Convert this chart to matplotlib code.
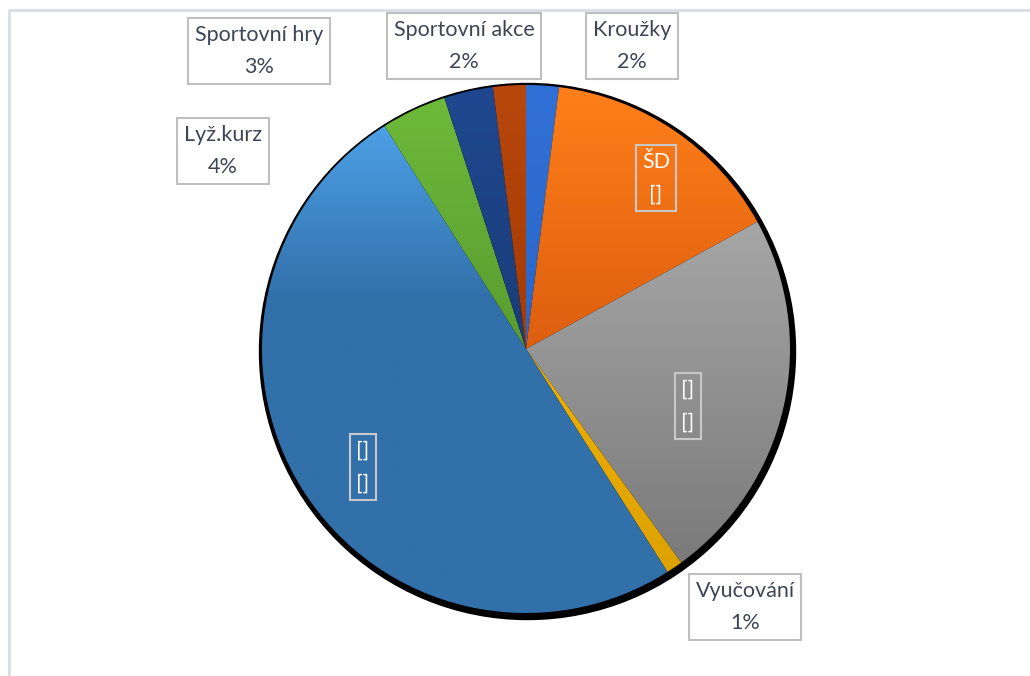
import numpy as np
import matplotlib
matplotlib.use('Agg')
import matplotlib.pyplot as plt
from matplotlib.colors import LinearSegmentedColormap
from matplotlib.patches import Circle

# data, clockwise from 12 o'clock
labels = ['Kroužky', 'ŠD', '[]', 'Vyučování', '[]', 'Lyž.kurz', 'Sportovní hry', 'Sportovní akce']
values = [2, 15, 23, 1, 50, 4, 3, 2]
label_texts = ['Kroužky\n2%', 'ŠD\n[]', '[]\n[]', 'Vyučování\n1%', '[]\n[]',
               'Lyž.kurz\n4%', 'Sportovní hry\n3%', 'Sportovní akce\n2%']

# gradient colours (top, bottom) per slice
grad_top = ['#3170D6', '#FF7F1A', '#A6A6A6', '#F0B000', '#4CA0E6', '#6DBA3A', '#1F4890', '#B8470B']
grad_bot = ['#2B66C8', '#DD5E0E', '#7A7A7A', '#DDA200', '#3270AA', '#5A9C30', '#1A3C78', '#A23B05']
grad_stop = [1.0, 1.0, 1.0, 1.0, 0.35, 1.0, 1.0, 1.0]

# label positions in pixels (x, y from top)
label_pos = [(632, 46), (656, 178), (688, 406), (745, 607), (363, 467),
             (223, 151), (259, 51), (464, 46)]
inside = [False, True, True, False, True, False, False, False]

W, H = 1030, 676
cx, cy, R = 526, 676 - 349, 264

fig = plt.figure(figsize=(W / 100, H / 100), dpi=100)
ax = fig.add_axes([0, 0, 1, 1])
ax.set_xlim(0, W)
ax.set_ylim(0, H)
ax.set_aspect('equal')
ax.axis('off')

# frame of the chart area (only top and left visible)
ax.plot([8.5, 8.5, W], [0, H - 9.5, H - 9.5], color='#D9DEE4', lw=2, zorder=0)

# shadow behind the pie
ax.add_patch(Circle((cx + 1.5, cy - 2.5), R + 4, color='black', zorder=1))

wedges, _ = ax.pie(values, center=(cx, cy), radius=R, startangle=90,
                   counterclock=False, frame=True,
                   wedgeprops=dict(linewidth=0))

for i, w in enumerate(wedges):
    w.set_facecolor('none')
    w.set_zorder(2)
    path = w.get_path().transformed(w.get_patch_transform())
    verts = path.vertices
    y0, y1 = verts[:, 1].min(), verts[:, 1].max()
    x0, x1 = verts[:, 0].min(), verts[:, 0].max()
    cmap = LinearSegmentedColormap.from_list(
        'g%d' % i, [(0, grad_top[i]), (grad_stop[i], grad_bot[i]), (1, grad_bot[i])])
    grad = np.linspace(0, 1, 256).reshape(-1, 1)
    im = ax.imshow(grad, cmap=cmap, extent=(x0, x1, y0, y1), origin='upper',
                   aspect='auto', zorder=2, interpolation='bilinear')
    im.set_clip_path(w)

ax.set_xlim(0, W)
ax.set_ylim(0, H)
ax.axis('off')

for txt, (px, py), ins in zip(label_texts, label_pos, inside):
    if ins:
        ax.text(px, H - py, txt, ha='center', va='center', fontsize=15.5,
                family='Lato', color='white', linespacing=1.8, zorder=5,
                bbox=dict(boxstyle='square,pad=0.3', fc='none', ec='#C8C8C8', lw=1.5))
    else:
        ax.text(px, H - py, txt, ha='center', va='center', fontsize=15.5,
                family='Lato', color='#3E4656', linespacing=1.8, zorder=5,
                bbox=dict(boxstyle='square,pad=0.3', fc='white', ec='#BFBFBF', lw=1.5))

fig.savefig('out.png', dpi=100)
